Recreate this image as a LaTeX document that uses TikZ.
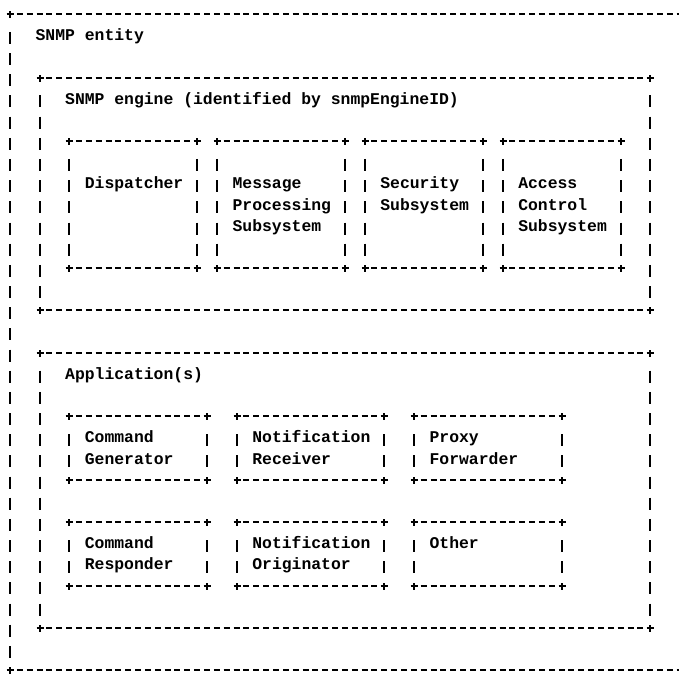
\documentclass[tikz,border=0pt]{standalone}
\usepackage{fontspec}
\setmonofont{Liberation Mono}
\newcommand\stack[1]{\vtop{\let\\\cr\halign{##\hfil\cr#1\cr}}}
\begin{document}
\begin{tikzpicture}[x=9.85pt,y=-21.17pt,line width=2pt,
  hdash/.style={dash pattern=on 6pt off 3.85pt},
  vbar/.style={dash pattern=on 12pt off 9.17pt},
  lbl/.style={anchor=base west,inner sep=0pt,xshift=-4.92pt,yshift=-5.5pt,
    font=\fontsize{16.4}{21.17}\selectfont\ttfamily\bfseries}]
\useasboundingbox (-10pt,14pt) rectangle ++(679pt,-673pt);
\clip (-10pt,14pt) rectangle ++(679pt,-673pt);

% boxes in character cells: left col / top row / right col / bottom row
% (edges snapped to whole points so the rules stay sharp)
\foreach \cA/\rA/\cB/\rB in {0/0/68/31, 3/3/65/14, 6/6/19/12, 21/6/34/12,
    36/6/48/12, 50/6/62/12, 3/16/65/29, 6/19/20/22, 23/19/38/22,
    41/19/56/22, 6/24/20/27, 23/24/38/27, 41/24/56/27} {
  \pgfmathsetmacro\xA{round(9.85*\cA)}
  \pgfmathsetmacro\xB{round(9.85*\cB)}
  \pgfmathsetmacro\yA{-round(21.17*\rA)}
  \pgfmathsetmacro\yB{-round(21.17*\rB)}
  \pgfmathsetmacro\xs{9.85*(\cA+1)-3}
  \pgfmathsetmacro\xe{9.85*(\cB-1)+3}
  \pgfmathsetmacro\ys{-21.17*(\rA+1)+3.2}
  \pgfmathsetmacro\ye{-21.17*(\rB-1)-8.8}
  \draw[hdash] (\xs pt,\yA pt) -- (\xe pt,\yA pt) (\xs pt,\yB pt) -- (\xe pt,\yB pt);
  \draw[vbar] (\xA pt,\ys pt) -- (\xA pt,\ye pt) (\xB pt,\ys pt) -- (\xB pt,\ye pt);
  \foreach \px/\py in {\xA/\yA,\xB/\yA,\xA/\yB,\xB/\yB}
    \draw (\px pt,\py pt) +(-3.5pt,0) -- +(3.5pt,0) +(0,-3.5pt) -- +(0,3.5pt);
}

\node[lbl] (entity) at (3,1) {SNMP entity};
\node[lbl] (engine) at (6,4) {SNMP engine (identified by snmpEngineID)};
\node[lbl] (disp) at (8,8) {Dispatcher};
\node[lbl] (mp) at (23,8) {\stack{Message\\Processing\\Subsystem}};
\node[lbl] (sec) at (38,8) {\stack{Security\\Subsystem}};
\node[lbl] (acc) at (52,8) {\stack{Access\\Control\\Subsystem}};

\node[lbl] (apps) at (6,17) {Application(s)};
\node[lbl] (cg) at (8,20) {\stack{Command\\Generator}};
\node[lbl] (nr) at (25,20) {\stack{Notification\\Receiver}};
\node[lbl] (pf) at (43,20) {\stack{Proxy\\Forwarder}};
\node[lbl] (cr) at (8,25) {\stack{Command\\Responder}};
\node[lbl] (no) at (25,25) {\stack{Notification\\Originator}};
\node[lbl] (oth) at (43,25) {Other};
\end{tikzpicture}
\end{document}
